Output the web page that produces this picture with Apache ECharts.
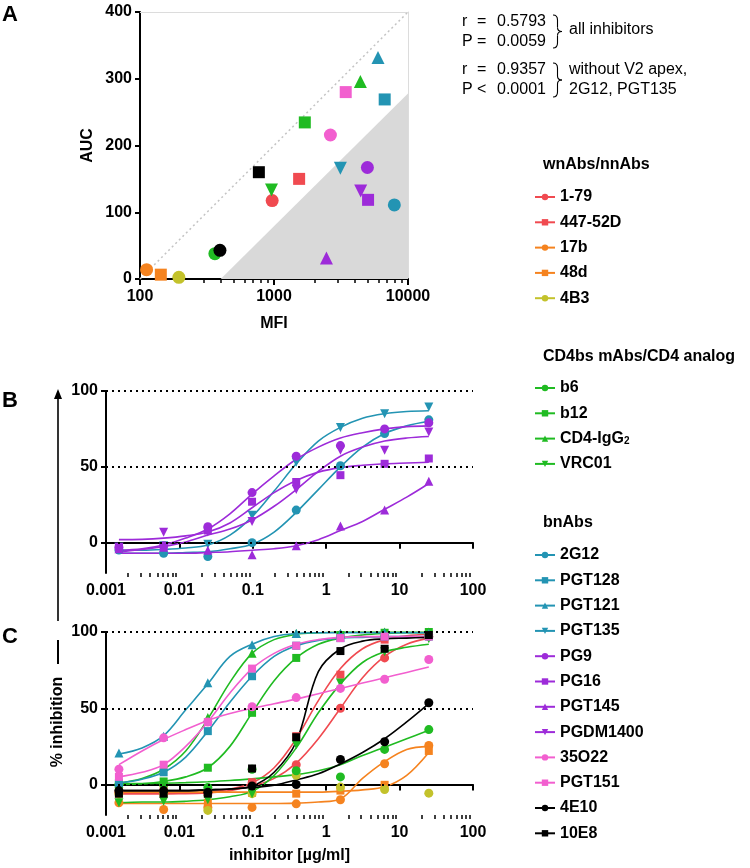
<!DOCTYPE html>
<html>
<head>
<meta charset="utf-8">
<script src="https://cdn.jsdelivr.net/npm/echarts@6/dist/echarts.min.js"></script>
<style>
html, body { margin: 0; padding: 0; background: #fff; }
#chart { width: 750px; height: 868px; }
</style>
</head>
<body>
<div id="chart"></div>
<script>
// antibodies, in legend order
const abNames = ['1-79', '447-52D', '17b', '48d', '4B3',
  'b6', 'b12', 'CD4-IgG2', 'VRC01',
  '2G12', 'PGT128', 'PGT121', 'PGT135', 'PG9', 'PG16', 'PGT145', 'PGDM1400', '35O22', 'PGT151', '4E10', '10E8']
const groupWn = ['1-79', '447-52D', '17b', '48d', '4B3']
const groupCd4 = ['b6', 'b12', 'CD4-IgG2', 'VRC01']
const groupBn = ['2G12', 'PGT128', 'PGT121', 'PGT135', 'PG9', 'PG16', 'PGT145', 'PGDM1400', '35O22', 'PGT151', '4E10', '10E8']
const panelBNames = ['2G12', 'PGT135', 'PG9', 'PG16', 'PGT145', 'PGDM1400']

// panel A: MFI vs AUC (same order as abNames)
const mfi = [969, 1540, 112, 143, 195, 362, 1698, 4413, 958, 7908, 6700, 5975, 3130, 4977, 5035, 2462, 4436, 2636, 3430, 395, 771]
const auc = [117.5, 150, 14, 6.5, 2.5, 38, 234.6, 296, 133.5, 111, 269, 332, 166, 167, 118.6, 31.4, 132, 215.7, 280, 43, 160]
const diagX = [100, 10000]
const diagY = [0, 400]
const shadeX = [400, 10000]
const shadeY = [0, 278]

// panels B/C: concentrations (µg/ml)
const conc = [0.0015, 0.0061, 0.0244, 0.0977, 0.3906, 1.5625, 6.25, 25]
const fitConc = [0.0015, 0.0031, 0.0061, 0.0122, 0.0244, 0.0488, 0.0977, 0.1953, 0.3906, 0.7813, 1.5625, 3.125, 6.25, 12.5, 25]
const pctTicks = [0, 50, 100]

// measured % inhibition
const inh179 = [-5, -5, -6, 1, 13, 50, 83, 97]
const inh44752D = [-6, -6, -6, 1.5, 31.7, 72, 95, 98.5]
const inh17b = [-12, -16.4, -15, -15, -12.7, -10, 13.6, 25.6]
const inh48d = [-5, -0.7, -12, -5.5, -6, -4, -0.2, 22]
const inh4B3 = [-6, -6, -17, -6, 6, -1.7, -3.3, -5.7]
const inhB6 = [0, 0, -2, 10, 9, 5, 23, 36]
const inhB12 = [0, 2, 11, 47, 83, 98, 99.5, 100]
const inhCD4IgG2 = [1, 12, 44, 86, 99, 99, 100, 100]
const inhVRC01 = [-12, -11, -10, -6, 26, 66.5, 87, 95.6]
const inh2G12 = [-4.8, -7, -9.2, 0, 21.5, 50.7, 72, 81]
const inhPGT128 = [1, 8, 35, 71, 91, 96, 97, 97]
const inhPGT121 = [20.6, 31.7, 66.7, 91.7, 99, 99, 99.5, 99]
const inhPGT135 = [-3, -2, -1, 18, 53, 76, 85, 89.5]
const inhPG9 = [-3, -2, 10.5, 33, 57, 64, 75, 79]
const inhPG16 = [-3, -2.6, 8, 27, 40, 44.5, 52, 55.5]
const inhPGT145 = [-4, -3, -5, -8, -2, 11, 21.5, 40.5]
const inhPGDM1400 = [-3, 6.8, 7, 14, 35, 61, 61, 73]
const inh35O22 = [10, 30.6, 41, 51, 57, 63, 69, 82]
const inhPGT151 = [5, 13, 41, 76, 91, 96, 97, 97]
const inh4E10 = [-4, -4, -5, -1, 0, 16.4, 28, 53.6]
const inh10E8 = [-6, -6, -6, 10.5, 31, 87.5, 89, 98]

// fitted curves at fitConc
const fit179 = [-6, -6, -6, -6, -5.5, -4, -1, 4, 14, 30, 50, 70, 84, 92, 96]
const fit44752D = [-6, -6, -6, -5.5, -5, -3, 1, 11, 30, 55, 76, 89, 95, 97.5, 98.5]
const fit17b = [-12.5, -12.5, -12.5, -12.5, -12.5, -12.5, -12.5, -12.5, -12.2, -11.5, -9.5, 4, 15, 23, 25]
const fit48d = [-5, -5, -5, -5, -5, -5, -5, -5, -5, -5, -4.5, -3.5, -1.5, 6, 21]
const fit4B3 = []
const fitB6 = [0.5, 0.6, 0.8, 1.2, 1.8, 2.6, 3.7, 5, 6.5, 9, 13, 19, 24.5, 30, 35.5]
const fitB12 = [0, 0.5, 2, 5, 11, 25, 47, 68, 83, 92, 96, 98, 99, 99.5, 99.5]
const fitCD4IgG2 = [1, 4, 10, 22, 43, 67, 86, 95, 98.5, 99.5, 100, 100, 100, 100, 100]
const fitVRC01 = [-12, -11.5, -11.5, -11, -10, -8, -4.5, 6, 24, 47, 66, 80, 87, 90, 92]
const fit2G12 = [-7, -7, -7, -6.5, -6, -4, -1, 7, 20, 35, 50, 63, 72, 77, 80]
const fitPGT128 = [1, 3.5, 8, 18, 35, 54, 71, 84, 91, 94.5, 96, 96.5, 97, 97, 97]
const fitPGT121 = [20, 24, 32, 49, 66, 84, 92, 97, 99, 99.5, 99.5, 99.5, 99.5, 99.5, 99.5]
const fitPGT135 = [-5, -5, -4.5, -3.5, -1.5, 5, 17, 34, 52, 67, 76, 82, 85, 86.5, 87]
const fitPG9 = [-5, -4, -1.5, 3, 9, 19, 32, 44, 55, 63, 69, 72.5, 75, 76.5, 77]
const fitPG16 = [2, 2.2, 3, 4.5, 7, 13, 23, 33, 41, 46.5, 49.5, 51, 52, 52.5, 53]
const fitPGT145 = [-7, -7, -7, -7, -6.5, -6, -5, -4, -2, 2, 8, 14, 22, 30, 39]
const fitPGDM1400 = [-6, -4.5, -2.5, 0.5, 5, 9, 15, 24, 35, 47, 57, 63, 67, 69, 70]
const fit35O22 = [13, 22, 29.5, 36, 42, 46.5, 50, 53, 56, 59.5, 63, 66.5, 70, 73.5, 77]
const fitPGT151 = [5, 8, 13, 25, 41, 60, 76, 86, 92, 95, 96.5, 97, 97, 97, 97]
const fit4E10 = [-4, -4, -4, -4, -3.5, -3, -2, -0.5, 3, 7, 13.5, 21, 30, 41, 53]
const fit10E8 = [-4, -4, -4, -4, -3.5, -3, -1, 8, 28, 74, 89, 94, 95.5, 96, 96.5]

const RED = '#f04a50', ORANGE = '#f5831f', YELLOW = '#c3c22b', GREEN = '#20bb22',
  TEAL = '#2394b3', PURPLE = '#9d2bd9', PINK = '#f25fcf', BLACK = '#000000'
const abColors = [RED, RED, ORANGE, ORANGE, YELLOW, GREEN, GREEN, GREEN, GREEN,
  TEAL, TEAL, TEAL, TEAL, PURPLE, PURPLE, PURPLE, PURPLE, PINK, PINK, BLACK, BLACK]
const abShapes = ['circle', 'rect', 'circle', 'rect', 'circle', 'circle', 'rect', 'triangle', 'down',
  'circle', 'rect', 'triangle', 'down', 'circle', 'rect', 'triangle', 'down', 'circle', 'rect', 'circle', 'rect']

const inhData = [inh179, inh44752D, inh17b, inh48d, inh4B3, inhB6, inhB12, inhCD4IgG2, inhVRC01,
  inh2G12, inhPGT128, inhPGT121, inhPGT135, inhPG9, inhPG16, inhPGT145, inhPGDM1400, inh35O22, inhPGT151, inh4E10, inh10E8]
const fitData = [fit179, fit44752D, fit17b, fit48d, fit4B3, fitB6, fitB12, fitCD4IgG2, fitVRC01,
  fit2G12, fitPGT128, fitPGT121, fitPGT135, fitPG9, fitPG16, fitPGT145, fitPGDM1400, fit35O22, fitPGT151, fit4E10, fit10E8]

const FONT = '"Liberation Sans", Arial, Helvetica, sans-serif'
const boldText = { fontFamily: FONT, fontWeight: 'bold', fontSize: 16, color: '#000' }

// minor log tick positions (2..9 of every decade), in log10 units
function minorTicksLog(lo, hi) {
  const out = []
  for (let e = Math.round(Math.log10(lo)); e < Math.round(Math.log10(hi)); e++) {
    for (let k = 2; k <= 9; k++) out.push(e + Math.log10(k))
  }
  return out
}

function shapeOf(i) { return abShapes[i] === 'down' ? 'triangle' : abShapes[i] }
function rotOf(i) { return abShapes[i] === 'down' ? 180 : 0 }
function panelOf(name) { return panelBNames.indexOf(name) >= 0 ? 1 : 2 }

const dotted = {
  silent: true,
  symbol: ['none', 'none'],
  label: { show: false },
  emphasis: { disabled: true },
  lineStyle: { color: '#000', type: [2, 4], width: 2 },
  data: pctTicks.map(v => ({ yAxis: v }))
}

const series = []
const markDone = {}
// fitted curves first (legend icons come from these)
abNames.forEach((name, i) => {
  const p = panelOf(name)
  const s = {
    name: name,
    type: 'line',
    xAxisIndex: p,
    yAxisIndex: p,
    data: fitData[i].map((v, j) => [fitConc[j], v]),
    smooth: 0.35,
    showSymbol: false,
    symbol: shapeOf(i),
    symbolRotate: rotOf(i),
    color: abColors[i],
    lineStyle: { width: 1.6, color: abColors[i] },
    z: 2,
    silent: true
  }
  if (!markDone[p]) {
    s.markLine = dotted
    markDone[p] = true
  }
  series.push(s)
})
// measured points
abNames.forEach((name, i) => {
  const p = panelOf(name)
  series.push({
    name: name,
    type: 'scatter',
    xAxisIndex: p,
    yAxisIndex: p,
    data: inhData[i].map((v, j) => [conc[j], v]),
    symbol: shapeOf(i),
    symbolRotate: rotOf(i),
    symbolSize: abShapes[i] === 'rect' ? 8 : 9,
    itemStyle: { color: abColors[i], opacity: 1 },
    z: 3
  })
})
// panel A points
abNames.forEach((name, i) => {
  series.push({
    name: name,
    type: 'scatter',
    xAxisIndex: 0,
    yAxisIndex: 0,
    data: [[mfi[i], auc[i]]],
    symbol: shapeOf(i),
    symbolRotate: rotOf(i),
    symbolSize: abShapes[i] === 'rect' ? 12 : 13,
    itemStyle: { color: abColors[i], opacity: 1 },
    z: 4
  })
})
series.push({
  name: '_shade',
  type: 'line',
  xAxisIndex: 0,
  yAxisIndex: 0,
  data: shadeX.map((x, j) => [x, shadeY[j]]),
  symbol: 'none',
  lineStyle: { width: 0 },
  areaStyle: { color: '#d9d9d9', opacity: 1 },
  silent: true,
  z: 1
})
series.push({
  name: '_diag',
  type: 'line',
  xAxisIndex: 0,
  yAxisIndex: 0,
  data: diagX.map((x, j) => [x, diagY[j]]),
  symbol: 'none',
  lineStyle: { width: 1.5, color: '#c4c4c4', type: [2, 3] },
  silent: true,
  z: 1
})

function logAxis(grid, min, max, extra) {
  return Object.assign({
    type: 'log',
    logBase: 10,
    gridIndex: grid,
    min: min,
    max: max,
    axisLine: { lineStyle: { color: '#000', width: 2 } },
    axisTick: { length: 6, lineStyle: { color: '#000', width: 2 } },
    axisLabel: Object.assign({ margin: 10, formatter: v => String(v) }, boldText),
    splitLine: { show: false },
    minorTick: { show: false }
  }, extra || {})
}
// decorative axis laid over the log axis (log10 units) carrying the minor ticks
function minorAxis(grid, lo, hi) {
  return {
    type: 'value',
    gridIndex: grid,
    min: Math.log10(lo),
    max: Math.log10(hi),
    position: 'bottom',
    axisLine: { show: false },
    axisLabel: { show: false },
    splitLine: { show: false },
    axisTick: { show: true, length: 4, lineStyle: { color: '#000', width: 1.5 }, customValues: minorTicksLog(lo, hi) }
  }
}
// thin grey frame line on the top / right of panel A
function frameAxis(grid, position) {
  return {
    type: 'value',
    gridIndex: grid,
    min: 0,
    max: 1,
    position: position,
    axisLine: { show: true, onZero: false, lineStyle: { color: '#dcdcdc', width: 1 } },
    axisTick: { show: false },
    axisLabel: { show: false },
    splitLine: { show: false }
  }
}
function pctAxis(grid) {
  return {
    type: 'value',
    gridIndex: grid,
    min: -20,
    max: 100,
    interval: 10,
    axisLine: { show: true, onZero: false, lineStyle: { color: '#000', width: 2 } },
    axisTick: { show: true, length: 5, lineStyle: { color: '#000', width: 2 }, customValues: pctTicks },
    axisLabel: Object.assign({ margin: 8, customValues: pctTicks }, boldText),
    splitLine: { show: false }
  }
}

function legendGroup(names, top) {
  return {
    data: names,
    orient: 'vertical',
    left: 534,
    top: top,
    padding: 0,
    itemWidth: 20,
    itemHeight: 8,
    itemGap: 9.3,
    selectedMode: false,
    textStyle: Object.assign({ lineHeight: 16, rich: {
      n: { fontFamily: FONT, fontWeight: 'bold', fontSize: 16, lineHeight: 16, color: '#000' },
      s: { fontFamily: FONT, fontWeight: 'bold', fontSize: 10, verticalAlign: 'bottom', color: '#000' }
    } }, boldText),
    formatter: n => n === 'CD4-IgG2' ? '{n|CD4-IgG}{s|2}' : n
  }
}

function txt(x, y, s, opt) {
  return {
    type: 'text',
    x: x,
    y: y,
    rotation: (opt && opt.rotation) || 0,
    silent: true,
    style: Object.assign({
      text: s,
      fill: '#000',
      fontFamily: FONT,
      fontSize: 16,
      fontWeight: 'normal',
      align: 'left',
      verticalAlign: 'middle',
      textAlign: 'left',
      textVerticalAlign: 'middle'
    }, (opt && opt.style) || {})
  }
}
const bold = { fontWeight: 'bold' }

// right curly brace from y0 to y1 at x0
function brace(x0, y0, y1) {
  const ym = (y0 + y1) / 2, xm = x0 + 4.5, xt = x0 + 9
  const ls = { stroke: '#000', lineWidth: 1.1, fill: 'none' }
  return [
    { type: 'bezierCurve', silent: true, shape: { x1: x0, y1: y0, x2: xm, y2: y0 + 5, cpx1: xm, cpy1: y0 }, style: ls },
    { type: 'line', silent: true, shape: { x1: xm, y1: y0 + 5, x2: xm, y2: ym - 4 }, style: ls },
    { type: 'bezierCurve', silent: true, shape: { x1: xm, y1: ym - 4, x2: xt, y2: ym, cpx1: xm, cpy1: ym }, style: ls },
    { type: 'bezierCurve', silent: true, shape: { x1: xt, y1: ym, x2: xm, y2: ym + 4, cpx1: xm, cpy1: ym }, style: ls },
    { type: 'line', silent: true, shape: { x1: xm, y1: ym + 4, x2: xm, y2: y1 - 5 }, style: ls },
    { type: 'bezierCurve', silent: true, shape: { x1: xm, y1: y1 - 5, x2: x0, y2: y1, cpx1: xm, cpy1: y1 }, style: ls }
  ]
}

const graphics = [
  txt(2, 15, 'A', { style: { fontWeight: 'bold', fontSize: 22 } }),
  txt(2, 401, 'B', { style: { fontWeight: 'bold', fontSize: 22 } }),
  txt(2, 637, 'C', { style: { fontWeight: 'bold', fontSize: 22 } }),
  txt(462, 22, 'r'), txt(477, 22, '='), txt(497, 22, '0.5793'),
  txt(462, 42, 'P'), txt(477, 42, '='), txt(497, 42, '0.0059'),
  txt(462, 70, 'r'), txt(477, 70, '='), txt(497, 70, '0.9357'),
  txt(462, 90, 'P'), txt(477, 90, '<'), txt(497, 90, '0.0001'),
  txt(569, 30, 'all inhibitors'),
  txt(569, 70, 'without V2 apex,'),
  txt(569, 90, '2G12, PGT135'),
  txt(543, 165, 'wnAbs/nnAbs', { style: bold }),
  txt(543, 357, 'CD4bs mAbs/CD4 analog', { style: bold }),
  txt(543, 523, 'bnAbs', { style: bold }),
  txt(58, 722, '% inhibition', { rotation: Math.PI / 2, style: { fontWeight: 'bold', align: 'center', textAlign: 'center' } }),
  { type: 'line', silent: true, shape: { x1: 58, y1: 640, x2: 58, y2: 664 }, style: { stroke: '#000', lineWidth: 2 } },
  { type: 'line', silent: true, shape: { x1: 58, y1: 396, x2: 58, y2: 621 }, style: { stroke: '#000', lineWidth: 1.6 } },
  { type: 'polygon', silent: true, shape: { points: [[58, 389], [54, 399], [62, 399]] }, style: { fill: '#000' } }
].concat(brace(553, 15, 48), brace(553, 63, 97))

const option = {
  animation: false,
  backgroundColor: '#fff',
  textStyle: { fontFamily: FONT },
  grid: [
    { left: 140, right: 342, top: 12, height: 267 },
    { left: 106, right: 277, top: 391, height: 182 },
    { left: 106, right: 277, top: 632, height: 183 }
  ],
  xAxis: [
    logAxis(0, 100, 10000, {
      name: 'MFI', nameLocation: 'middle', nameGap: 37, nameTextStyle: boldText
    }),
    logAxis(1, 0.001, 100),
    logAxis(2, 0.001, 100, {
      name: 'inhibitor [µg/ml]', nameLocation: 'middle', nameGap: 33, nameTextStyle: boldText
    }),
    minorAxis(0, 100, 10000),
    minorAxis(1, 0.001, 100),
    minorAxis(2, 0.001, 100),
    frameAxis(0, 'top')
  ],
  yAxis: [
    {
      type: 'value',
      gridIndex: 0,
      min: 0,
      max: 400,
      interval: 100,
      name: 'AUC',
      nameLocation: 'middle',
      nameGap: 44,
      nameTextStyle: boldText,
      axisLine: { show: true, onZero: false, lineStyle: { color: '#000', width: 2 } },
      axisTick: { show: true, length: 5, lineStyle: { color: '#000', width: 2 } },
      axisLabel: Object.assign({ margin: 8 }, boldText),
      splitLine: { show: false }
    },
    pctAxis(1),
    pctAxis(2),
    frameAxis(0, 'right')
  ],
  legend: [
    legendGroup(groupWn, 189),
    legendGroup(groupCd4, 380),
    legendGroup(groupBn, 547)
  ],
  graphic: graphics,
  series: series
}

const chart = echarts.init(document.getElementById('chart'))
chart.setOption(option)
</script>
</body>
</html>
